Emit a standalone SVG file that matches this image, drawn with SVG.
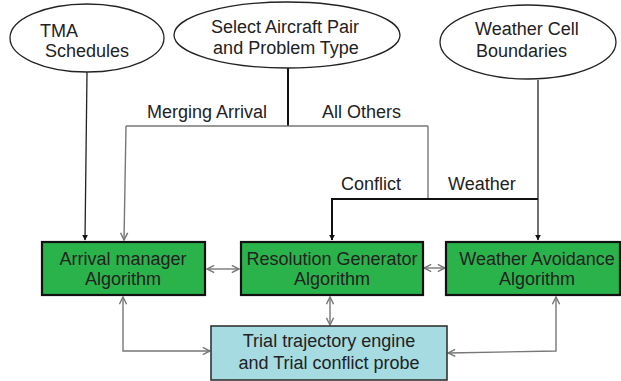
<svg xmlns="http://www.w3.org/2000/svg" width="621" height="381" viewBox="0 0 621 381">
<defs>
<marker id="fill" viewBox="0 0 10 10" refX="9" refY="5" markerWidth="6" markerHeight="6" markerUnits="userSpaceOnUse" orient="auto-start-reverse">
<path d="M0,0 L10,5 L0,10 Z" fill="#111"/>
</marker>
<marker id="open" viewBox="0 0 10 10" refX="9" refY="5" markerWidth="9" markerHeight="9" markerUnits="userSpaceOnUse" orient="auto-start-reverse">
<path d="M1,1 L9,5 L1,9" fill="none" stroke="#777" stroke-width="1.6"/>
</marker>
</defs>
<style>
text{font-family:"Liberation Sans",Arial,sans-serif;font-size:18px;fill:#222}
.mid{text-anchor:middle}
.ell{fill:#fff;stroke:#222;stroke-width:1.3}
.green{fill:#2ab34b;stroke:#111;stroke-width:2.2}
.blue{fill:#a6dbe2;stroke:#333;stroke-width:1.6}
.gray{fill:none;stroke:#777;stroke-width:1.4}
.dark{fill:none;stroke:#222;stroke-width:1.3}
.bold{fill:none;stroke:#111;stroke-width:2}
</style>
<rect width="621" height="381" fill="#fff"/>
<g id="connectors">
<path class="dark" d="M87,72 L85,240" marker-end="url(#fill)"/>
<path class="bold" d="M288,68 L288,126"/>
<path class="gray" d="M126,126 L428,126"/>
<path class="gray" d="M126,126 L124,240" marker-end="url(#open)"/>
<path class="gray" d="M428,126 L428,199"/>
<path class="bold" d="M332,240 L332,199 L538,199" marker-start="url(#fill)"/>
<path class="dark" d="M538,80 L538,240" marker-end="url(#fill)"/>
<path class="gray" d="M207,269 L239,269" marker-start="url(#open)" marker-end="url(#open)"/>
<path class="gray" d="M424,268 L445,268" marker-start="url(#open)" marker-end="url(#open)"/>
<path class="gray" d="M330,297 L330,325" marker-start="url(#open)" marker-end="url(#open)"/>
<path class="gray" d="M123,297 L123,351 L210,351" marker-start="url(#open)" marker-end="url(#open)"/>
<path class="gray" d="M556,297 L556,351 L448,353" marker-start="url(#open)" marker-end="url(#open)"/>
<text x="147" y="118">Merging Arrival</text>
<text x="322" y="118">All Others</text>
<text x="341" y="190">Conflict</text>
<text x="448" y="190">Weather</text>
</g>
<g id="tma">
<ellipse class="ell" cx="87" cy="38" rx="77" ry="34"/>
<text x="40" y="37">TMA</text>
<text x="45" y="57">Schedules</text>
</g>
<g id="select">
<ellipse class="ell" cx="287" cy="35" rx="113" ry="33" stroke-width="2.2"/>
<text class="mid" x="285" y="33">Select Aircraft Pair</text>
<text class="mid" x="286" y="54">and Problem Type</text>
</g>
<g id="weathercell">
<ellipse class="ell" cx="528" cy="42" rx="88" ry="37"/>
<text x="475" y="35">Weather Cell</text>
<text x="476" y="57">Boundaries</text>
</g>
<g id="arrival">
<rect class="green" x="42" y="242" width="163" height="53"/>
<text class="mid" x="123" y="265">Arrival manager</text>
<text class="mid" x="123" y="285">Algorithm</text>
</g>
<g id="resolution">
<rect class="green" x="241" y="242" width="182" height="53"/>
<text class="mid" x="332" y="265">Resolution Generator</text>
<text class="mid" x="332" y="285">Algorithm</text>
</g>
<g id="weatheravoid">
<rect class="green" x="446" y="242" width="174" height="53"/>
<text class="mid" x="537" y="265">Weather Avoidance</text>
<text class="mid" x="537" y="285">Algorithm</text>
</g>
<g id="trial">
<rect class="blue" x="211" y="326" width="236" height="54"/>
<text class="mid" x="329" y="347">Trial trajectory engine</text>
<text class="mid" x="329" y="369">and Trial conflict probe</text>
</g>
</svg>
